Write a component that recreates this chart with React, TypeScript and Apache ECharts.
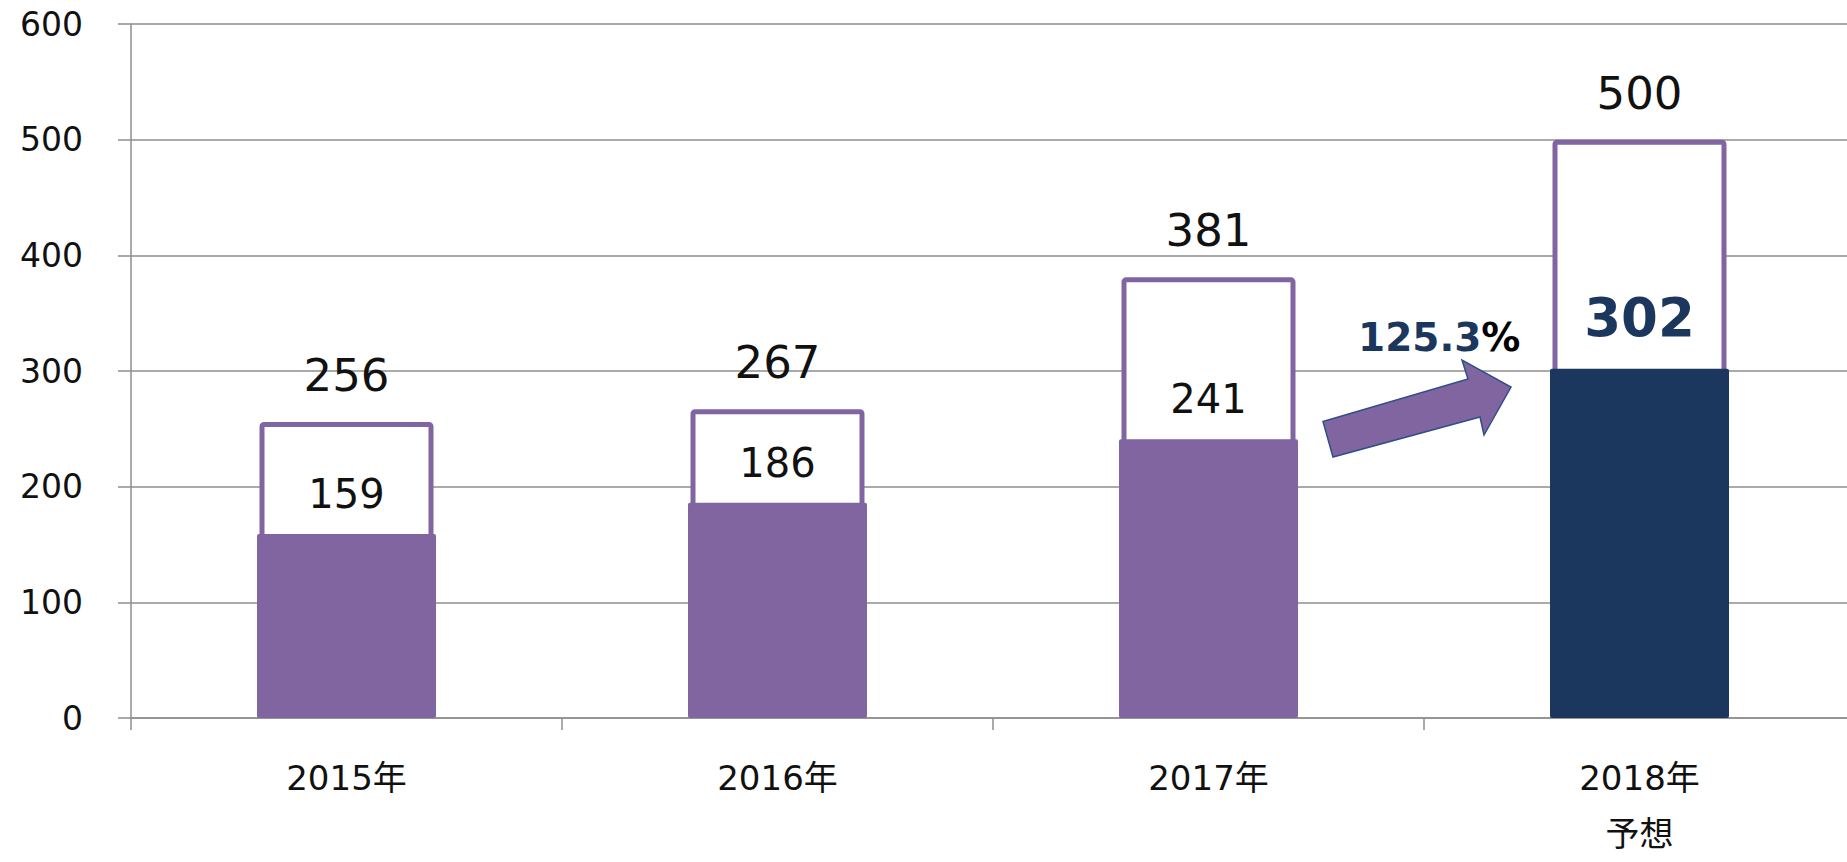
import React, { useEffect, useRef } from "react";
import * as echarts from "echarts";

const categories = ["2015年", "2016年", "2017年", "2018年\n予想"];
const totalValues = [256, 267, 381, 500];
const actualValues = [159, 186, 241, 302];
const forecastIndex = 3;
const growthLabel = "125.3";
const yTicks = { min: 0, max: 600, interval: 100 };

const PURPLE = "#8165A1";
const NAVY = "#1B375E";
const GRAY = "#8E8E8E";
const FONT = '"DejaVu Sans", "Noto Sans CJK JP", sans-serif';

export default function App() {
  const ref = useRef<HTMLDivElement>(null);

  useEffect(() => {
    if (!ref.current) return;
    const chart = echarts.init(ref.current, undefined, { renderer: "svg" });

    const actualData = actualValues.map((v, i) =>
      i === forecastIndex
        ? {
            value: v,
            itemStyle: { color: NAVY },
            label: {
              color: NAVY,
              fontWeight: "bold",
              fontSize: 53,
              distance: 25,
            },
          }
        : v
    );

    chart.setOption({
      animation: false,
      backgroundColor: "#fff",
      grid: { left: 131, right: 0, top: 24, height: 706, containLabel: false },
      xAxis: [
        {
          type: "category",
          data: categories,
          axisLine: { lineStyle: { color: GRAY, width: 1.5 } },
          axisTick: { show: true, length: 12, lineStyle: { color: GRAY, width: 1.5 } },
          axisLabel: {
            color: "#111",
            fontSize: 34,
            fontFamily: FONT,
            margin: 32,
            lineHeight: 56,
            interval: 0,
          },
        },
        {
          type: "category",
          data: categories,
          show: false,
        },
      ],
      yAxis: {
        type: "value",
        min: yTicks.min,
        max: yTicks.max,
        interval: yTicks.interval,
        axisLine: { show: true, lineStyle: { color: GRAY, width: 1.5 } },
        axisTick: { show: true, length: 13, lineStyle: { color: GRAY, width: 1.5 } },
        axisLabel: { color: "#111", fontSize: 33, fontFamily: FONT, margin: 48 },
        splitLine: { show: true, lineStyle: { color: GRAY, width: 1.5 } },
      },
      series: [
        {
          name: "total",
          type: "bar",
          xAxisIndex: 1,
          data: totalValues,
          barWidth: 174,
          itemStyle: {
            color: "#fff",
            borderColor: PURPLE,
            borderWidth: 5,
            borderRadius: 2,
          },
          label: {
            show: true,
            position: "top",
            distance: 24,
            color: "#111",
            fontSize: 45,
            fontFamily: FONT,
          },
          z: 2,
        },
        {
          name: "actual",
          type: "bar",
          xAxisIndex: 0,
          data: actualData,
          barWidth: 179,
          itemStyle: { color: PURPLE, borderRadius: 2 },
          label: {
            show: true,
            position: "top",
            distance: 20,
            color: "#111",
            fontSize: 40,
            fontFamily: FONT,
          },
          z: 3,
        },
      ],
      graphic: [
        {
          type: "polygon",
          z: 100,
          shape: {
            points: [
              [1323, 421.5],
              [1468, 379],
              [1462, 360],
              [1511, 387],
              [1484, 435],
              [1480, 417],
              [1333, 457],
            ],
          },
          style: { fill: PURPLE, stroke: "#2F4F88", lineWidth: 1.5 },
        },
        {
          type: "text",
          z: 100,
          x: 1358,
          y: 337,
          style: {
            text: "{a|" + growthLabel + "}{b|%}",
            verticalAlign: "middle",
            align: "left",
            rich: {
              a: { fill: NAVY, fontSize: 39, fontWeight: "bold", fontFamily: FONT },
              b: { fill: "#000", fontSize: 39, fontWeight: "bold", fontFamily: FONT },
            },
          },
        },
      ],
    });

    return () => chart.dispose();
  }, []);

  return (
    <div
      style={{
        position: "fixed",
        left: 0,
        top: 0,
        width: 1847,
        height: 862,
        overflow: "hidden",
        background: "#fff",
      }}
    >
      <div ref={ref} style={{ width: 1855, height: 862 }} />
    </div>
  );
}
